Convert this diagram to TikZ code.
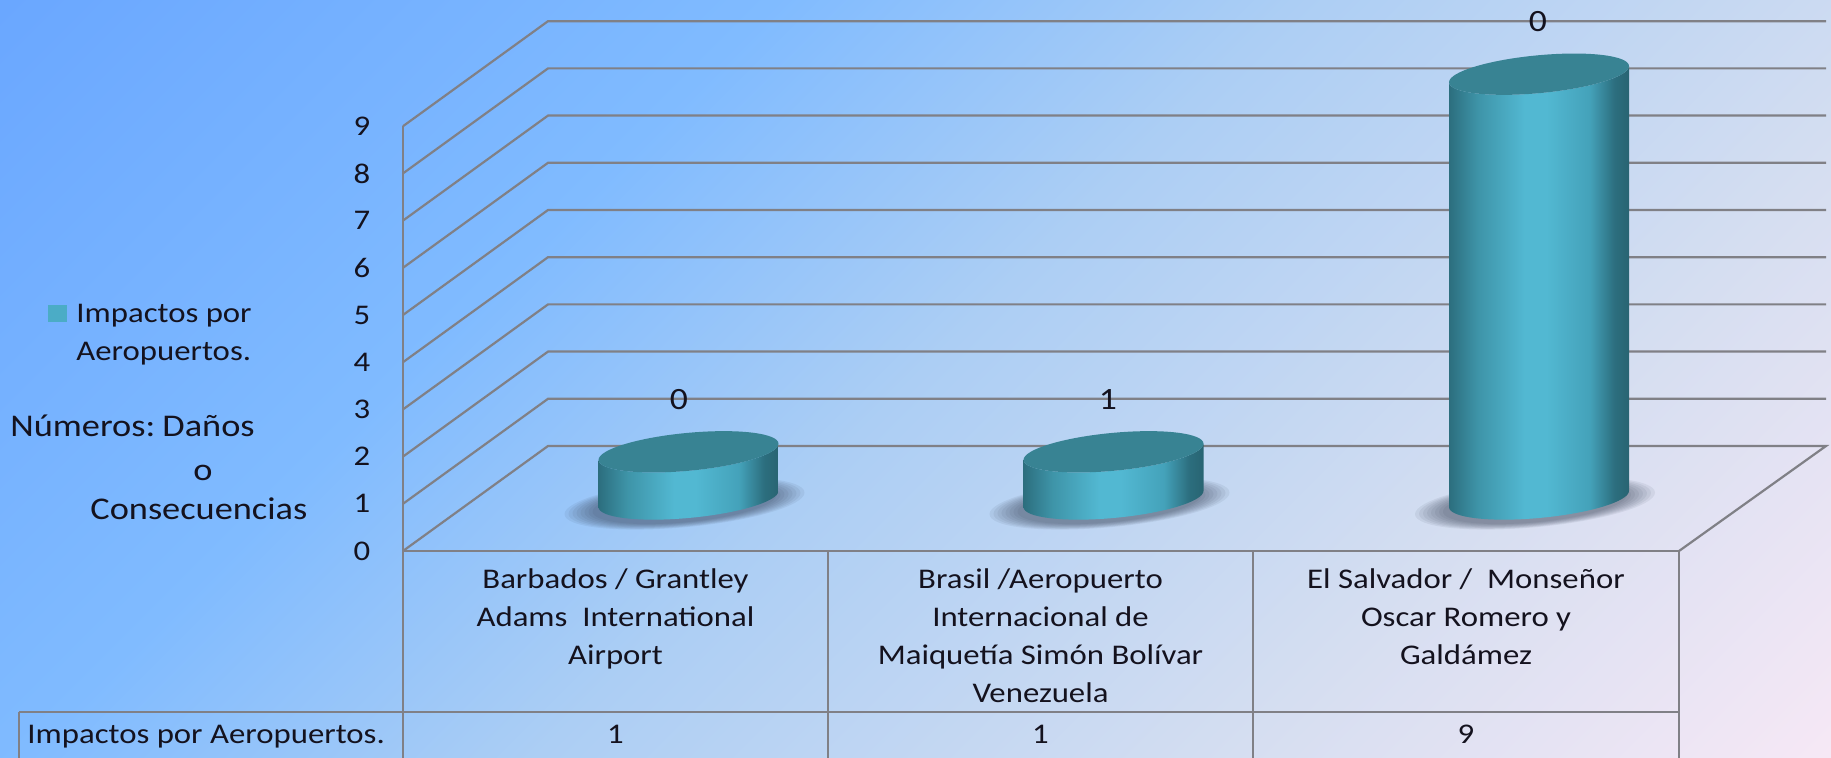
\documentclass[tikz,border=0pt]{standalone}
\usepackage{fontspec}
\setmainfont{Carlito}[FakeStretch=1.15]

\definecolor{bgA}{RGB}{106,167,255}
\definecolor{bgA2}{RGB}{128,187,255}
\definecolor{bgM}{RGB}{172,206,244}
\definecolor{bgB2}{RGB}{213,222,241}
\definecolor{bgB}{RGB}{246,232,245}
\definecolor{gridc}{RGB}{128,128,134}
\definecolor{txt}{RGB}{20,18,30}
\definecolor{legc}{RGB}{75,172,198}
\definecolor{cA}{RGB}{44,110,126}
\definecolor{cB}{RGB}{62,148,168}
\definecolor{cC}{RGB}{82,184,210}
\definecolor{cD}{RGB}{68,162,186}
\definecolor{cE}{RGB}{40,100,114}
\definecolor{ctop}{RGB}{56,131,147}
\definecolor{shadowc}{RGB}{45,55,75}

\pgfdeclareverticalshading{bgsh}{100bp}{color(0bp)=(bgB); color(14.6bp)=(bgB); color(30.9bp)=(bgB2); color(50bp)=(bgM); color(64.2bp)=(bgA2); color(85.4bp)=(bgA); color(100bp)=(bgA)}
\pgfdeclarehorizontalshading{cylside}{100bp}{color(0bp)=(cA); color(25bp)=(cA); color(33bp)=(cB); color(46bp)=(cC); color(52bp)=(cC); color(64bp)=(cD); color(71bp)=(cA); color(75bp)=(cE); color(100bp)=(cE)}

\newcommand\drawcyl[2]{%
  \begin{scope}[shift={(#1,499)}, yslant=0.09]
    \foreach \k in {0,...,7} {
      \fill[shadowc, opacity=0.075] (-2pt,-2pt) ellipse [x radius={(46+2*\k)*1pt}, y radius={(9.5+0.35*\k)*1pt}];
    }
    \shade[shading=cylside] (-45pt,0pt) -- (-45pt,#2)
      arc[start angle=180, end angle=360, x radius=45pt, y radius=9.5pt]
      -- (45pt,0pt)
      arc[start angle=0, end angle=-180, x radius=45pt, y radius=9.5pt] -- cycle;
    \fill[ctop] (0pt,#2) ellipse [x radius=45pt, y radius=9.5pt];
  \end{scope}}

\begin{document}
\begin{tikzpicture}[x=0.5pt, y=-0.5pt,
  grid/.style={draw=gridc, line width=1.1pt},
  lbl/.style={text=txt, font=\fontsize{14.25}{19}\selectfont, inner sep=0pt},
  big/.style={text=txt, font=\fontsize{15.8}{21}\selectfont, inner sep=0pt},
  dlab/.style={text=txt, font=\fontsize{15.5}{19}\selectfont, inner sep=0pt}]

\useasboundingbox (0,0) rectangle (1831,758);
\shade[shading=bgsh, shading angle=45] (0,0) rectangle (1831,758);

% walls and floor
\foreach \k in {1,...,9} {
  \draw[grid] (403,{551-47.2*\k}) -- (548,{446-47.2*\k}) -- (1826,{446-47.2*\k});
}
\draw[grid] (403,551) -- (548,446) -- (1826,446) -- (1679,551);
\draw[grid] (403,126.2) -- (403,758);
\draw[grid] (403,551) -- (1679,551);

% table
\draw[grid] (828,551) -- (828,758);
\draw[grid] (1253,551) -- (1253,758);
\draw[grid] (1679,551) -- (1679,758);
\draw[grid] (19,712) -- (1679,712);
\draw[grid] (19,712) -- (19,758);

% axis labels
\foreach \k in {0,...,9} {
  \node[lbl] (y\k) at (362,{551-47.2*\k}) {\k};
}

% cylinders
\drawcyl{688.5}{23.6pt}
\drawcyl{1113.5}{23.6pt}
\drawcyl{1539}{212.4pt}

% data labels
\node[dlab] (d1) at (679,400) {0};
\node[dlab] (d2) at (1108,400) {1};
\node[dlab] (d3) at (1538,22) {0};

% legend
\fill[legc] (48,305) rectangle (67,322);
\node[lbl, anchor=north west, align=left] (leg) at (76,295.4) {\strut Impactos por\\Aeropuertos.};

% axis title
\node[big, anchor=base west] (t1) at (10,437) {Números:\hspace{-0.12em} Daños};
\node[big, anchor=base] (t2) at (203,481) {o};
\node[big, anchor=base west] (t3) at (90,520) {Consecuencias};

% category labels
\node[lbl, anchor=north, align=center] (c1) at (615.5,561.4) {\strut Barbados / Grantley\\Adams~ International\\Airport};
\node[lbl, anchor=north, align=center] (c2) at (1040.5,561.4) {\strut Brasil /Aeropuerto\\Internacional de\\Maiquetía Simón Bolívar\\Venezuela};
\node[lbl, anchor=north, align=center] (c3) at (1466,561.4) {\strut El Salvador /~ Monseñor\\Oscar Romero y\\Galdámez};

% data row
\node[lbl, anchor=base west] (r0) at (27,743) {Impactos por Aeropuertos.};
\node[lbl, anchor=base] (r1) at (615.5,743) {1};
\node[lbl, anchor=base] (r2) at (1040.5,743) {1};
\node[lbl, anchor=base] (r3) at (1466,743) {9};
\end{tikzpicture}
\end{document}
